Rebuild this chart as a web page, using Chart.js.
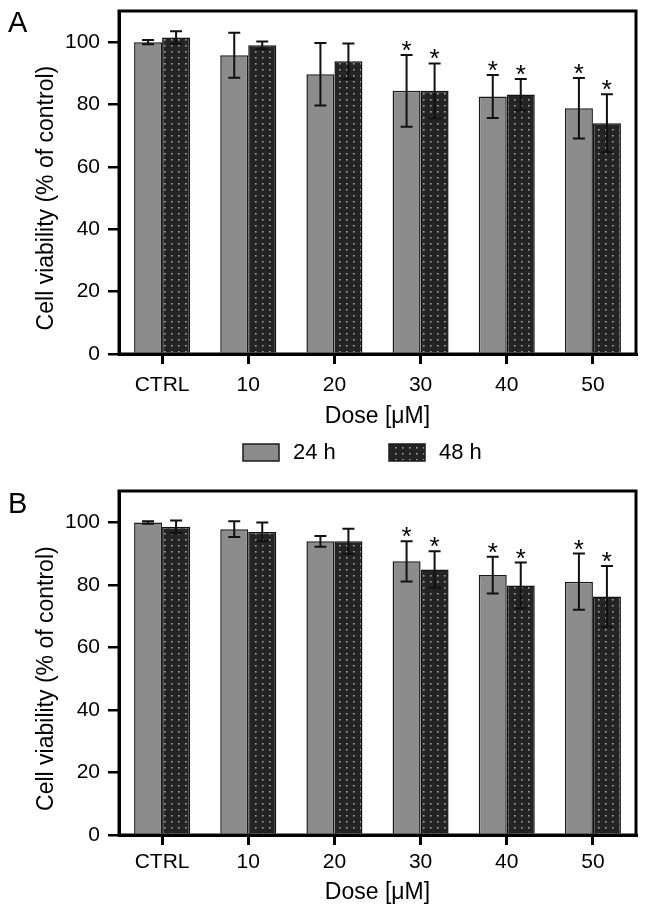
<!DOCTYPE html>
<html>
<head>
<meta charset="utf-8">
<script src="https://cdn.jsdelivr.net/npm/chart.js@4.4.0/dist/chart.umd.min.js"></script>
<style>
  html, body { margin: 0; padding: 0; background: #fff; }
  #wrap { position: relative; width: 646px; height: 913px; }
  .panel { position: absolute; left: 0; width: 646px; }
  .tag { position: absolute; left: 8px; font: 29px/1 "Liberation Sans", Arial, sans-serif; color: #000; }
</style>
</head>
<body>
<div id="wrap">
  <div class="panel" style="top:0;height:470px"><canvas id="chartA" width="646" height="470"></canvas></div>
  <div class="panel" style="top:470px;height:443px"><canvas id="chartB" width="646" height="443"></canvas></div>
  <div class="tag" style="top:8px">A</div>
  <div class="tag" style="top:489px">B</div>
</div>
<script>
// --- data ---
const doses = ["CTRL", "10", "20", "30", "40", "50"];
const yTicks = [0, 20, 40, 60, 80, 100];
const seriesNames = ["24 h", "48 h"];

// panel A
const viabilityA24 = [100, 95.8, 89.7, 84.4, 82.6, 78.8];
const sdA24 = [0.7, 7.2, 10, 11.5, 6.9, 9.7];
const viabilityA48 = [101.5, 99, 93.9, 84.4, 83.2, 74];
const sdA48 = [2, 1.2, 5.7, 8.8, 5, 9.3];

// panel B
const viabilityB24 = [99.9, 97.8, 93.9, 87.5, 83.1, 81];
const sdB24 = [0.4, 2.5, 1.7, 6.4, 5.9, 9];
const viabilityB48 = [98.6, 96.9, 93.9, 84.9, 79.8, 76.3];
const sdB48 = [2, 3, 4, 5.8, 7.3, 9.7];

// significance marks (*)
const starred = [false, false, false, true, true, true];

const FONT = "'Liberation Sans', Arial, Helvetica, sans-serif";

// dotted dark fill for the 48 h bars
function makeDots() {
  const c = document.createElement("canvas");
  c.width = 7;
  c.height = 6;
  const g = c.getContext("2d");
  g.fillStyle = "#242424";
  g.fillRect(0, 0, 7, 6);
  g.fillStyle = "#a0a0a0";
  g.fillRect(3, 3, 1.6, 1.6);
  return g.createPattern(c, "repeat");
}
const dots = makeDots();

// box round the plot area
const framePlugin = {
  id: "frame",
  afterDatasetsDraw(chart) {
    const { ctx, chartArea: a } = chart;
    ctx.save();
    ctx.strokeStyle = "#000";
    ctx.lineWidth = 3;
    ctx.strokeRect(a.left, a.top, a.right - a.left, a.bottom - a.top);
    ctx.restore();
  },
};

// error bars and asterisks
const errorBarPlugin = {
  id: "errorBars",
  afterDatasetsDraw(chart) {
    const ctx = chart.ctx;
    const y = chart.scales.y;
    chart.data.datasets.forEach((ds, i) => {
      const meta = chart.getDatasetMeta(i);
      meta.data.forEach((bar, j) => {
        const v = ds.data[j];
        const e = ds.errors[j];
        const top = y.getPixelForValue(v + e);
        const bot = y.getPixelForValue(v - e);
        ctx.save();
        ctx.strokeStyle = "#111";
        ctx.lineWidth = 2;
        ctx.beginPath();
        ctx.moveTo(bar.x, top);
        ctx.lineTo(bar.x, bot);
        ctx.moveTo(bar.x - 6, top);
        ctx.lineTo(bar.x + 6, top);
        ctx.moveTo(bar.x - 6, bot);
        ctx.lineTo(bar.x + 6, bot);
        ctx.stroke();
        if (ds.stars[j]) {
          ctx.fillStyle = "#000";
          ctx.font = "26px " + FONT;
          ctx.textAlign = "center";
          ctx.textBaseline = "alphabetic";
          ctx.fillText("*", bar.x, top + 4);
        }
        ctx.restore();
      });
    });
  },
};

// y title centred on the 0-100 range
const yTitlePlugin = {
  id: "yTitle",
  afterDraw(chart) {
    const ctx = chart.ctx;
    const mid = chart.scales.y.getPixelForValue(50);
    ctx.save();
    ctx.translate(47, mid);
    ctx.rotate(-Math.PI / 2);
    ctx.fillStyle = "#000";
    ctx.font = "23px " + FONT;
    ctx.textAlign = "center";
    ctx.textBaseline = "middle";
    ctx.fillText("Cell viability (% of control)", 0, 0);
    ctx.restore();
  },
};

// legend row under panel A
const legendPlugin = {
  id: "boxLegend",
  afterDraw(chart, args, opts) {
    if (!opts.show) return;
    const ctx = chart.ctx;
    chart.data.datasets.forEach((ds, i) => {
      const x = opts.x[i];
      ctx.save();
      ctx.fillStyle = ds.backgroundColor;
      ctx.fillRect(x, opts.y, 36, 17);
      ctx.strokeStyle = "#1a1a1a";
      ctx.lineWidth = 1.5;
      ctx.strokeRect(x, opts.y, 36, 17);
      ctx.fillStyle = "#000";
      ctx.font = "22px " + FONT;
      ctx.textAlign = "left";
      ctx.textBaseline = "middle";
      ctx.fillText(ds.label, x + 50, opts.y + 9);
      ctx.restore();
    });
  },
};

function renderPanel(id, v24, e24, v48, e48, lay) {
  const ctx = document.getElementById(id).getContext("2d");
  return new Chart(ctx, {
    type: "bar",
    data: {
      labels: doses,
      datasets: [
        {
          label: seriesNames[0],
          data: v24,
          errors: e24,
          stars: starred,
          backgroundColor: "#8c8c8c",
          borderColor: "#1a1a1a",
          borderWidth: 1.5,
        },
        {
          label: seriesNames[1],
          data: v48,
          errors: e48,
          stars: starred,
          backgroundColor: dots,
          borderColor: "#111",
          borderWidth: 1.5,
        },
      ],
    },
    options: {
      responsive: false,
      animation: false,
      events: [],
      categoryPercentage: 0.65,
      barPercentage: 1.0,
      layout: { padding: { top: lay.top, right: 10, left: 0, bottom: lay.bottom } },
      scales: {
        x: {
          offset: true,
          grid: { offset: false, drawOnChartArea: false, drawTicks: true, tickLength: 10, lineWidth: 3, color: "#000" },
          border: { display: true, color: "#000", width: 3 },
          ticks: { color: "#000", font: { family: FONT, size: 21 }, padding: lay.tickPad, maxRotation: 0, autoSkip: false },
          title: { display: true, text: "Dose [μM]", color: "#000", font: { family: FONT, size: 23 }, padding: { top: 0, bottom: 0 } },
          afterFit: (s) => { s.height = lay.xHeight; },
        },
        y: {
          min: 0,
          max: 110,
          afterBuildTicks: (s) => { s.ticks = yTicks.map((v) => ({ value: v })); },
          grid: { drawOnChartArea: false, drawTicks: true, tickLength: 11, lineWidth: 2.5, color: "#000" },
          border: { display: true, color: "#000", width: 3 },
          ticks: { color: "#000", font: { family: FONT, size: 21 }, padding: 8 },
          afterFit: (s) => {
            s.width = 119;
            s.paddingTop = 0;
            s.paddingBottom = 0;
          },
        },
      },
      plugins: {
        legend: { display: false },
        tooltip: { enabled: false },
        boxLegend: { show: lay.legend, x: [243, 389], y: 444 },
      },
    },
    plugins: [framePlugin, errorBarPlugin, yTitlePlugin, legendPlugin],
  });
}

renderPanel("chartA", viabilityA24, sdA24, viabilityA48, sdA48,
  { top: 11, bottom: 40, xHeight: 76, tickPad: 9, legend: true });
renderPanel("chartB", viabilityB24, sdB24, viabilityB48, sdB48,
  { top: 21, bottom: 7, xHeight: 71, tickPad: 5, legend: false });
</script>
</body>
</html>
